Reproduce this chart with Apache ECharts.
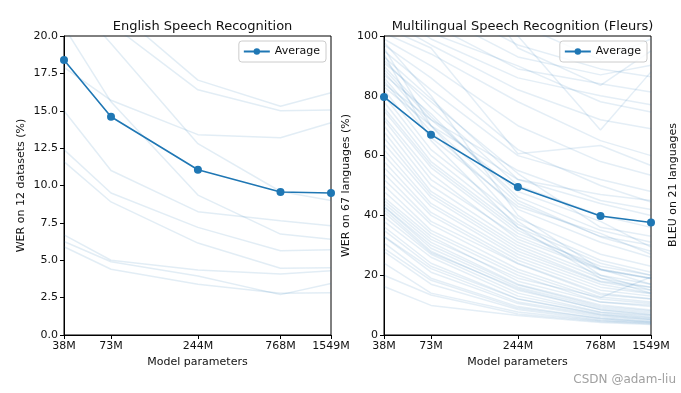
<!DOCTYPE html>
<html>
<head>
<meta charset="utf-8">
<script src="https://cdn.jsdelivr.net/npm/echarts@6/dist/echarts.min.js"></script>
<style>
html,body{margin:0;padding:0;background:#fff;}
#chart{width:681px;height:393px;}
</style>
</head>
<body>
<div id="chart"></div>
<script>
// ---- data ----
const params = [38, 73, 244, 768, 1549];
const tickLabels = ['38M', '73M', '244M', '768M', '1549M'];

const englishAverage = [18.4, 14.6, 11.05, 9.57, 9.5];
const englishDatasets = [
  [26.0, 22.0, 17.05, 15.3, 16.2],
  [25.0, 20.8, 16.4, 15.0, 15.05],
  [17.9, 15.7, 13.4, 13.2, 14.2],
  [23.0, 19.5, 12.8, 9.6, 9.0],
  [20.6, 15.6, 9.36, 6.75, 6.4],
  [15.0, 11.0, 8.25, 7.65, 7.3],
  [12.4, 9.5, 7.2, 5.64, 5.7],
  [11.6, 8.9, 6.15, 4.46, 4.5],
  [6.7, 5.0, 4.35, 4.08, 4.3],
  [6.25, 4.9, 3.95, 2.7, 3.45],
  [5.9, 4.4, 3.4, 2.79, 2.83],
  [28.0, 26.0, 25.5, 25.0, 25.6]
];

const multiAverage = [79.6, 67.0, 49.5, 39.8, 37.6];
const multiLanguages = [
  [180, 150, 120, 105, 102],
  [160, 135, 96, 83.5, 95],
  [150, 128, 100, 68.6, 88],
  [140, 120, 104, 92, 99],
  [130, 112, 97, 89, 86.4],
  [125, 108, 93, 87, 90.2],
  [120, 104, 89, 84, 81.3],
  [115, 101, 90, 78, 74.6],
  [110, 99, 86, 80, 77],
  [106, 97, 82, 72, 69],
  [103, 96, 60.6, 63.4, 56.7],
  [101, 94, 78, 65, 60],
  [99, 90, 70, 58, 53.4],
  [98, 80, 40, 22, 17],
  [97, 86, 62, 50, 44.5],
  [96, 70, 38, 20, 15],
  [95, 82, 60, 52, 48],
  [94, 65, 36, 19, 14],
  [93, 79, 52, 44, 40],
  [92, 76, 50, 40, 36],
  [91, 78, 54, 36, 33],
  [90, 73, 46.2, 35, 31],
  [89, 72, 48, 38, 29.4],
  [88, 70, 44, 33, 30],
  [87, 74, 45, 32.8, 28],
  [86, 68, 42, 31, 26],
  [85, 66, 43, 34, 27],
  [84, 72, 55, 45, 42],
  [83, 70, 52, 47, 45],
  [82, 62, 39, 27, 23],
  [80, 60, 37, 25, 21],
  [78, 58, 36, 24, 20],
  [76, 57, 35, 22, 19],
  [75, 56, 34, 23, 20],
  [73, 54, 32, 21.7, 18.8],
  [72, 52, 33, 22, 19],
  [70, 50, 31, 20, 17],
  [68, 48, 30, 19, 16],
  [66, 47, 29, 18, 16],
  [64, 46, 28, 17.7, 15],
  [62, 44, 27, 17, 14],
  [60, 43, 26, 16, 13.8],
  [58, 41, 25, 15, 13],
  [56, 40, 24, 14, 12.1],
  [54, 38, 23.8, 13.5, 12],
  [52, 37, 22, 12.7, 11],
  [50, 35, 21, 12, 10.5],
  [48, 34, 20, 11, 10],
  [46, 33, 18, 11, 9.5],
  [45, 32, 19, 12.5, 19.4],
  [44, 31, 17, 10, 8.4],
  [43, 30, 16.7, 9.5, 8],
  [42.9, 29, 16, 9, 7.5],
  [42, 28, 15, 8.5, 7],
  [41, 27.5, 15.5, 8.4, 6.7],
  [39.6, 27, 14, 7.7, 6.5],
  [38, 26, 13, 7.5, 6],
  [36.2, 24, 12.1, 7, 5.8],
  [35, 23, 12, 6.8, 5.4],
  [33, 22.2, 11, 6.5, 5.2],
  [32.9, 21, 10.5, 6, 5],
  [30.8, 19, 9.5, 5.5, 4.5],
  [29, 18.3, 9, 5.5, 4.4],
  [27.9, 17, 8.5, 5, 4.2],
  [24, 14, 7.7, 4.8, 4],
  [20, 13.4, 7, 4.5, 3.8],
  [16.2, 9.9, 6.5, 4.2, 3.5]
];

// ---- chart ----
const FONT = 'DejaVu Sans';
const BLUE = '#1f77b4';
const TXT = '#111';
const logX = params.map(p => Math.log10(p));
const toPts = vals => vals.map((v, i) => [logX[i], v]);
const fmtX = v => {
  for (let i = 0; i < logX.length; i++) if (Math.abs(logX[i] - v) < 1e-6) return tickLabels[i];
  return '';
};

function xAxis(gridIndex) {
  return {
    type: 'value', gridIndex, min: logX[0], max: logX[logX.length - 1],
    name: 'Model parameters', nameLocation: 'middle', nameGap: 22,
    nameTextStyle: {fontFamily: FONT, fontSize: 11, color: TXT},
    axisLine: {show: true, lineStyle: {color: '#000', width: 1}},
    axisTick: {show: true, length: 4, customValues: logX, lineStyle: {color: '#000'}},
    axisLabel: {customValues: logX, formatter: fmtX, fontFamily: FONT, fontSize: 11, color: TXT, margin: 6},
    splitLine: {show: false}
  };
}
function yAxis(gridIndex, max, interval, name, digits) {
  return {
    type: 'value', gridIndex, min: 0, max, interval,
    name, nameLocation: 'middle', nameGap: digits ? 37 : 32,
    nameTextStyle: {fontFamily: FONT, fontSize: 11, color: TXT},
    axisLine: {show: true, lineStyle: {color: '#000', width: 1}},
    axisTick: {show: true, length: 4, lineStyle: {color: '#000'}},
    axisLabel: {formatter: v => v.toFixed(digits), fontFamily: FONT, fontSize: 11, color: TXT, margin: 6},
    splitLine: {show: false}
  };
}

const series = [];
englishDatasets.forEach(d => series.push({
  type: 'line', xAxisIndex: 0, yAxisIndex: 0, data: toPts(d), symbol: 'none', silent: true,
  lineStyle: {color: BLUE, width: 1.5, opacity: 0.13}, clip: true, z: 1
}));
series.push({
  name: 'Average', type: 'line', xAxisIndex: 0, yAxisIndex: 0, data: toPts(englishAverage),
  symbol: 'circle', symbolSize: 8, itemStyle: {color: BLUE}, lineStyle: {color: BLUE, width: 1.6}, z: 5
});
multiLanguages.forEach(d => series.push({
  type: 'line', xAxisIndex: 1, yAxisIndex: 1, data: toPts(d), symbol: 'none', silent: true,
  lineStyle: {color: BLUE, width: 1.5, opacity: 0.12}, clip: true, z: 1
}));
series.push({
  name: 'Average', type: 'line', xAxisIndex: 1, yAxisIndex: 1, data: toPts(multiAverage),
  symbol: 'circle', symbolSize: 8, itemStyle: {color: BLUE}, lineStyle: {color: BLUE, width: 1.6}, z: 5
});

function legend(right) {
  return {
    data: ['Average'], right, top: 41, orient: 'vertical',
    backgroundColor: 'rgba(255,255,255,0.8)', borderColor: '#ccc', borderWidth: 1, borderRadius: 3,
    padding: [5, 6, 5, 4], itemWidth: 26, itemHeight: 8, itemGap: 4, selectedMode: false,
    textStyle: {fontFamily: FONT, fontSize: 11, color: TXT}
  };
}

const chart = echarts.init(document.getElementById('chart'), null, {renderer: 'canvas'});
chart.setOption({
  backgroundColor: '#fff',
  animation: false,
  title: [
    {text: 'English Speech Recognition', left: 197.5, top: 15, textAlign: 'center',
     textStyle: {fontFamily: FONT, fontSize: 13, fontWeight: 'normal', color: TXT}},
    {text: 'Multilingual Speech Recognition (Fleurs)', left: 517.5, top: 15, textAlign: 'center',
     textStyle: {fontFamily: FONT, fontSize: 13, fontWeight: 'normal', color: TXT}}
  ],
  legend: [legend(355), legend(34)],
  grid: [
    {left: 64, top: 36, width: 267, height: 299, show: true, borderColor: '#000', borderWidth: 1, backgroundColor: 'transparent'},
    {left: 384, top: 36, width: 267, height: 299, show: true, borderColor: '#000', borderWidth: 1, backgroundColor: 'transparent'}
  ],
  xAxis: [xAxis(0), xAxis(1)],
  yAxis: [yAxis(0, 20, 2.5, 'WER on 12 datasets (%)', 1), yAxis(1, 100, 20, 'WER on 67 languages (%)', 0)],
  series,
  graphic: [
    {type: 'text', x: 673, y: 185, rotation: Math.PI / 2,
     style: {text: 'BLEU on 21 languages', font: '11px "DejaVu Sans"', fill: TXT, align: 'center', verticalAlign: 'middle'}},
    {type: 'text', x: 676, y: 380,
     style: {text: 'CSDN @adam-liu', font: '12px "DejaVu Sans"', fill: '#a0a0a0', align: 'right', verticalAlign: 'middle'}}
  ]
});
</script>
</body>
</html>
